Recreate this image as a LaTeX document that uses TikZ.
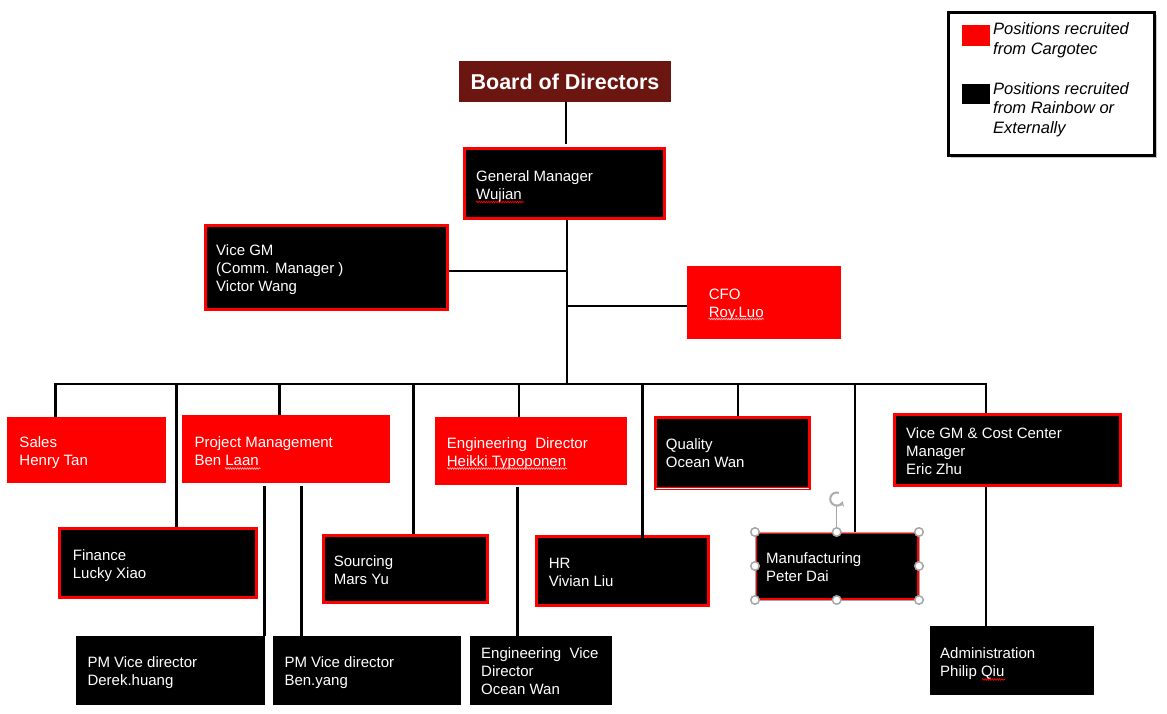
\documentclass[tikz,border=0pt]{standalone}
\usepackage{fontspec}
\setmainfont{Liberation Sans}
\usetikzlibrary{fit,shadows,backgrounds,decorations.pathmorphing,arrows.meta}
\definecolor{cred}{RGB}{255,0,0}
\definecolor{boardc}{RGB}{107,22,16}
\newcommand\mylines[1]{\begin{tabular}[t]{@{}l@{}}#1\end{tabular}}
\begin{document}
\begin{tikzpicture}[x=1pt,y=-1pt,
  redbx/.style={fill=cred, draw=none, inner sep=0pt},
  blkred/.style={fill=black, draw=cred, line width=3pt, inner sep=0pt},
  blk/.style={fill=black, draw=none, inner sep=0pt},
  lbl/.style={text=white, anchor=base west, inner sep=0pt, font=\fontsize{15}{18}\selectfont},
  leglbl/.style={text=black, anchor=base west, inner sep=0pt, font=\fontsize{16.5}{19.5}\selectfont\itshape},
  conn/.style={draw=black, line width=2.9pt},
  spell/.style={decorate, decoration={snake, amplitude=0.8pt, segment length=2.4pt}, line width=0.7pt},
  handle/.style={circle, fill=white, draw=gray!70, line width=1.5pt, inner sep=0pt, minimum size=8.5pt},
]
\useasboundingbox (0,0) rectangle (1167,714);

% ---------- boxes ----------
\node[fill=boardc, inner sep=0pt, fit={(459,61) (671,101.7)}] (board) {};
\node[blkred, fit={(464.8,148.8) (664.2,218.5)}] (gm) {};
\node[blkred, fit={(205.5,225.8) (447.2,309.2)}] (vgm) {};
\node[redbx, fit={(687,266) (840.7,338.7)}] (cfo) {};
\node[redbx, fit={(7,417) (165.7,482.7)}] (sales) {};
\node[redbx, fit={(182,415) (389.7,482.7)}] (pm) {};
\node[redbx, fit={(435,417) (626.7,484.7)}] (eng) {};
\node[blkred, fit={(655.8,417.8) (809,488.8)}] (qual) {};
\node[blkred, fit={(894.5,414.5) (1120.5,485.5)}] (vgmcc) {};
\node[blkred, fit={(59.8,528.5) (256.2,597.2)}] (fin) {};
\node[blkred, fit={(323.5,535.5) (487.2,602.2)}] (src) {};
\node[blkred, fit={(536.7,536.8) (708,605.2)}] (hr) {};
\node[blkred, line width=2.4pt, fit={(756.2,533.2) (917.8,598.8)}] (mfg) {};
\node[blk, fit={(76,636) (265,704.7)}] (pmvd1) {};
\node[blk, fit={(273,636) (461,704.7)}] (pmvd2) {};
\node[blk, fit={(470,636) (611.9,704.7)}] (engvd) {};
\node[blk, fit={(930,626) (1093.8,694.7)}] (adm) {};

% white hairline at the bottom of Quality
\draw[white, line width=0.9pt] ([xshift=1.5pt,yshift=2.2pt]qual.south west) -- ([xshift=-1.5pt,yshift=2.2pt]qual.south east);

% ---------- legend ----------
\node[draw=black, line width=3pt, fill=white, inner sep=0pt,
      drop shadow={shadow xshift=2.5pt, shadow yshift=-2.5pt, opacity=0.45},
      fit={(948.8,12.2) (1154.5,155.2)}] (legend) {};
\node[fill=cred, inner sep=0pt, fit={(962,25) (990,45.7)}] (legred) {};
\node[fill=black, inner sep=0pt, fit={(962,84) (990,104.3)}] (legblk) {};
\node[leglbl] (tleg1) at (993,35) {\mylines{Positions recruited\\from Cargotec}};
\node[leglbl] (tleg2) at (993,94.3) {\mylines{Positions recruited\\from Rainbow or\\Externally}};

% ---------- texts ----------
\node[text=white, anchor=base, inner sep=0pt, font=\fontsize{21.5}{24}\selectfont\bfseries] (tboard) at (565,90) {Board of Directors};
\node[lbl] (tgm) at (476,182) {\mylines{General Manager\\Wujian}};
\node[lbl] (tvgm) at (216,255.5) {\mylines{Vice GM\\(Comm. Manager )\\Victor Wang}};
\node[lbl] (tcfo) at (708.7,299) {\mylines{CFO\\Roy.Luo}};
\node[lbl] (tsales) at (19.3,447) {\mylines{Sales\\Henry Tan}};
\node[lbl] (tpm) at (194.3,447) {\mylines{Project Management\\Ben Laan}};
\node[lbl] (teng) at (446.7,448) {\mylines{Engineering\ \ Director\\Heikki Typoponen}};
\node[lbl] (tqual) at (665.7,449) {\mylines{Quality\\Ocean Wan}};
\node[lbl] (tvgmcc) at (906,438) {\mylines{Vice GM \& Cost Center\\Manager\\Eric Zhu}};
\node[lbl] (tfin) at (72.7,560) {\mylines{Finance\\Lucky Xiao}};
\node[lbl] (tsrc) at (333.7,566.7) {\mylines{Sourcing\\Mars Yu}};
\node[lbl] (thr) at (548.6,568) {\mylines{HR\\Vivian Liu}};
\node[lbl] (tmfg) at (766,563) {\mylines{Manufacturing\\Peter Dai}};
\node[lbl] (tpmvd1) at (87.3,667.7) {\mylines{PM Vice director\\Derek.huang}};
\node[lbl] (tpmvd2) at (284.3,667.7) {\mylines{PM Vice director\\Ben.yang}};
\node[lbl] (tengvd) at (481,658.3) {\mylines{Engineering\ \ Vice\\Director\\Ocean Wan}};
\node[lbl] (tadm) at (940,658.3) {\mylines{Administration\\Philip Qiu}};

% spell-check underlines
\draw[spell, cred] (476,202) -- (524,202);
\draw[spell, white!70!cred] (708.7,319) -- (764,319);
\draw[spell, white!70!cred] (225,468.5) -- (260.7,468.5);
\draw[spell, white!70!cred] (447,468.5) -- (567,468.5);
\draw[spell, cred] (982,679.5) -- (1005,679.5);

% ---------- connectors ----------
\coordinate (jB) at (566,144.3);
\coordinate (jV) at (567,271);
\coordinate (jC) at (567,306);
\coordinate (dSales) at (55.3,384);
\coordinate (dFin) at (176.5,384);
\coordinate (dPM) at (279.3,384);
\coordinate (dSrc) at (413.3,384);
\coordinate (dTrunk) at (567,384);
\coordinate (dEng) at (519,384);
\coordinate (dHR) at (642.4,384);
\coordinate (hrEnd) at (642.4,560.7);
\coordinate (dQual) at (738,384);
\coordinate (dMfg) at (855,384);
\coordinate (dVcc) at (986,384);
\coordinate (p1) at (264.3,486.3);
\coordinate (p2) at (301.3,486.3);
\coordinate (e1) at (517.8,486.7);
\coordinate (a1) at (986,475);

\begin{pgfonlayer}{background}
\fill[white] (0,0) rectangle (1167,714);
\draw[conn] (jB |- board.south) -- (jB);
\draw[conn] (dTrunk |- gm.south) -- (dTrunk);
\draw[conn] (jV -| vgm.east) -- (jV);
\draw[conn] (jC) -- (jC -| cfo.west);
\draw[conn] (dSales |- sales.north) -- (dSales) -- (dVcc) -- (dVcc |- vgmcc.north);
\draw[conn] (dFin) -- (dFin |- fin.north);
\draw[conn] (dPM) -- (dPM |- pm.north);
\draw[conn] (dSrc) -- (dSrc |- src.north);
\draw[conn] (dEng) -- (dEng |- eng.north);
\draw[conn] (dQual) -- (dQual |- qual.north);
\draw[conn] (dMfg) -- (dMfg |- mfg.north);
\draw[conn] (p1) -- (p1 |- pmvd1.north);
\draw[conn] (p2) -- (p2 |- pmvd2.north);
\draw[conn] (e1) -- (e1 |- engvd.north);
\draw[conn] (a1) -- (a1 |- adm.north);
\end{pgfonlayer}
\draw[conn] (dHR) -- (hrEnd);

% ---------- selection frame on Manufacturing ----------
\coordinate (mNW) at (755,532);
\coordinate (mSE) at (919,600);
\draw[gray!70, line width=1pt] (mNW) rectangle (mSE);
\coordinate (rot) at (836.7,499);
\draw[gray!70, line width=1.2pt] (836.7,506) -- (836.7,528);
\draw[gray!65, line width=2pt, -{Stealth[length=5pt,width=6pt]}] (rot) ++(-70:6.5) arc[start angle=-70, end angle=-340, radius=6.5];
\foreach \nm/\px/\py in {h1/755/532, h2/836.7/532, h3/919/532, h4/755/566, h5/919/566, h6/755/600, h7/836.7/600, h8/919/600}
  \node[handle] (\nm) at (\px,\py) {};
\end{tikzpicture}
\end{document}
